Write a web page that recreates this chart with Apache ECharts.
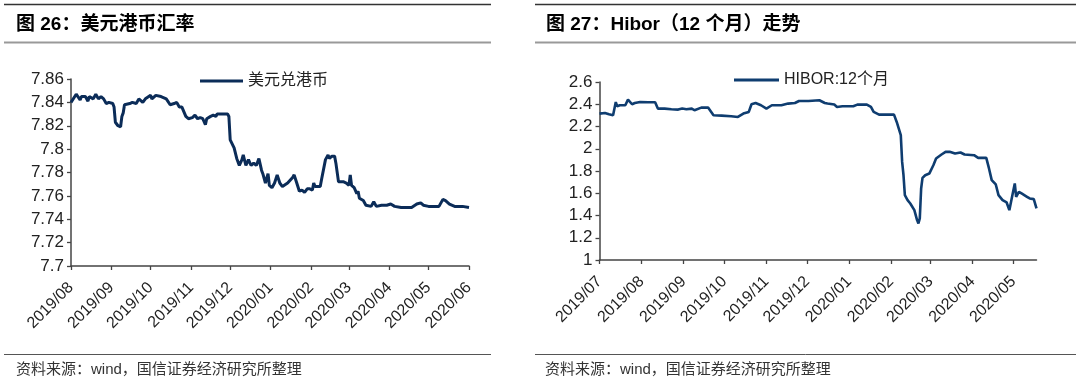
<!DOCTYPE html>
<html><head><meta charset="utf-8">
<script src="https://cdn.jsdelivr.net/npm/echarts@6/dist/echarts.min.js"></script>
<style>html,body{margin:0;padding:0;background:#fff}#c{width:1080px;height:382px}</style>
</head><body><div id="c"></div>
<script>
// ---- data ----
const hkdDates = ['2019-08-01','2019-08-05','2019-08-08','2019-08-09','2019-08-12','2019-08-14','2019-08-15','2019-08-18','2019-08-20','2019-08-22','2019-08-24','2019-08-26','2019-08-28','2019-08-30','2019-09-02','2019-09-03','2019-09-04','2019-09-06','2019-09-08','2019-09-09','2019-09-10','2019-09-11','2019-09-15','2019-09-17','2019-09-20','2019-09-22','2019-09-25','2019-09-27','2019-10-01','2019-10-02','2019-10-05','2019-10-09','2019-10-13','2019-10-16','2019-10-19','2019-10-21','2019-10-23','2019-10-25','2019-10-28','2019-10-30','2019-11-02','2019-11-04','2019-11-06','2019-11-08','2019-11-10','2019-11-12','2019-11-13','2019-11-16','2019-11-18','2019-11-20','2019-11-21','2019-11-26','2019-11-29','2019-11-30','2019-12-01','2019-12-04','2019-12-06','2019-12-08','2019-12-10','2019-12-11','2019-12-13','2019-12-15','2019-12-17','2019-12-19','2019-12-21','2019-12-23','2019-12-25','2019-12-26','2019-12-28','2019-12-30','2019-12-31','2020-01-02','2020-01-04','2020-01-06','2020-01-08','2020-01-10','2020-01-14','2020-01-18','2020-01-19','2020-01-21','2020-01-23','2020-01-25','2020-01-27','2020-01-29','2020-01-31','2020-02-02','2020-02-03','2020-02-04','2020-02-08','2020-02-09','2020-02-12','2020-02-14','2020-02-15','2020-02-17','2020-02-19','2020-02-20','2020-02-22','2020-02-26','2020-02-28','2020-03-01','2020-03-02','2020-03-03','2020-03-05','2020-03-07','2020-03-08','2020-03-09','2020-03-12','2020-03-14','2020-03-18','2020-03-20','2020-03-22','2020-03-26','2020-03-30','2020-04-02','2020-04-05','2020-04-10','2020-04-18','2020-04-22','2020-04-25','2020-04-27','2020-05-01','2020-05-04','2020-05-09','2020-05-12','2020-05-14','2020-05-17','2020-05-21','2020-05-27','2020-06-01'];
const hkdValues = [7.840,7.847,7.842,7.845,7.845,7.841,7.845,7.843,7.847,7.843,7.845,7.843,7.839,7.840,7.839,7.836,7.823,7.820,7.819,7.828,7.831,7.838,7.839,7.840,7.839,7.843,7.840,7.843,7.846,7.843,7.846,7.845,7.843,7.838,7.839,7.840,7.836,7.836,7.828,7.826,7.827,7.829,7.826,7.827,7.826,7.821,7.826,7.828,7.829,7.828,7.830,7.830,7.830,7.828,7.808,7.801,7.792,7.786,7.791,7.795,7.786,7.791,7.786,7.788,7.786,7.792,7.782,7.779,7.771,7.779,7.769,7.767,7.771,7.778,7.771,7.768,7.771,7.776,7.778,7.771,7.764,7.765,7.763,7.766,7.766,7.765,7.771,7.768,7.768,7.774,7.791,7.795,7.792,7.794,7.794,7.788,7.772,7.772,7.771,7.769,7.778,7.769,7.767,7.762,7.764,7.758,7.756,7.752,7.751,7.755,7.751,7.752,7.752,7.753,7.751,7.750,7.750,7.753,7.754,7.752,7.751,7.751,7.751,7.757,7.756,7.753,7.751,7.751,7.750];

const hiborDates = ['2019-07-01','2019-07-05','2019-07-08','2019-07-11','2019-07-13','2019-07-14','2019-07-16','2019-07-20','2019-07-22','2019-07-25','2019-07-27','2019-07-31','2019-08-06','2019-08-11','2019-08-13','2019-08-18','2019-08-23','2019-08-28','2019-08-31','2019-09-03','2019-09-07','2019-09-09','2019-09-14','2019-09-19','2019-09-23','2019-09-29','2019-10-06','2019-10-11','2019-10-15','2019-10-19','2019-10-21','2019-10-24','2019-10-28','2019-11-01','2019-11-05','2019-11-12','2019-11-17','2019-11-22','2019-11-25','2019-12-02','2019-12-10','2019-12-14','2019-12-16','2019-12-21','2019-12-23','2019-12-27','2019-12-31','2020-01-04','2020-01-07','2020-01-14','2020-01-17','2020-01-19','2020-01-23','2020-01-29','2020-02-03','2020-02-05','2020-02-08','2020-02-09','2020-02-10','2020-02-11','2020-02-13','2020-02-15','2020-02-18','2020-02-20','2020-02-21','2020-02-22','2020-02-23','2020-02-24','2020-02-26','2020-02-29','2020-03-03','2020-03-05','2020-03-09','2020-03-12','2020-03-15','2020-03-19','2020-03-23','2020-03-26','2020-04-02','2020-04-05','2020-04-11','2020-04-13','2020-04-15','2020-04-18','2020-04-20','2020-04-23','2020-04-26','2020-04-28','2020-04-30','2020-05-02','2020-05-03','2020-05-05','2020-05-07','2020-05-11','2020-05-13','2020-05-16','2020-05-18'];
const hiborValues = [2.316,2.322,2.310,2.301,2.420,2.382,2.391,2.391,2.442,2.400,2.411,2.420,2.418,2.418,2.361,2.361,2.355,2.352,2.361,2.355,2.361,2.346,2.370,2.370,2.301,2.298,2.292,2.286,2.316,2.331,2.400,2.411,2.391,2.361,2.391,2.391,2.406,2.411,2.429,2.429,2.436,2.411,2.406,2.397,2.376,2.382,2.382,2.382,2.397,2.397,2.376,2.331,2.307,2.307,2.307,2.241,2.122,1.882,1.762,1.583,1.538,1.508,1.448,1.359,1.329,1.374,1.643,1.738,1.762,1.777,1.852,1.912,1.948,1.972,1.972,1.957,1.966,1.948,1.942,1.918,1.918,1.823,1.718,1.679,1.583,1.538,1.517,1.448,1.568,1.688,1.568,1.613,1.598,1.568,1.553,1.547,1.464];

const leftMonths = ['2019-08','2019-09','2019-10','2019-11','2019-12','2020-01','2020-02','2020-03','2020-04','2020-05','2020-06'];
const rightMonths = ['2019-07','2019-08','2019-09','2019-10','2019-11','2019-12','2020-01','2020-02','2020-03','2020-04','2020-05'];

const leftTitle = '图 26：美元港币汇率';
const rightTitle = '图 27：Hibor（12 个月）走势';
const leftLegend = '美元兑港币';
const rightLegend = 'HIBOR:12个月';
const sourceText = '资料来源：wind，国信证券经济研究所整理';

// ---- helpers ----
function ts(s){const p=s.split('-').map(Number);return new Date(p[0],p[1]-1,p[2]||1).getTime();}
function fmt(v){const d=new Date(v);return d.getFullYear()+'/'+String(d.getMonth()+1).padStart(2,'0');}
const FONT='"Liberation Sans", Arial, "Noto Sans CJK SC", sans-serif';
const leftTicks = leftMonths.map(ts), rightTicks = rightMonths.map(ts);

function xAxis(gi,min,max,ticks){
  return {type:'value',gridIndex:gi,min:min,max:max,scale:true,
    axisLine:{show:true,lineStyle:{color:'#444',width:1.5}},
    axisTick:{show:true,length:4,inside:false,customValues:ticks,lineStyle:{color:'#444',width:1.3}},
    axisLabel:{customValues:ticks,formatter:fmt,rotate:45,margin:19,fontSize:16,color:'#222',fontFamily:FONT,hideOverlap:false},
    splitLine:{show:false}};
}
function yAxis(gi,min,max,interval){
  return {type:'value',gridIndex:gi,min:min,max:max,interval:interval,
    axisLine:{show:true,lineStyle:{color:'#444',width:1.5}},
    axisTick:{show:true,length:4,lineStyle:{color:'#444',width:1.3}},
    axisLabel:{margin:7,fontSize:17,color:'#222',fontFamily:FONT},
    splitLine:{show:false}};
}

const chart = echarts.init(document.getElementById('c'));
chart.setOption({
  animation:false,
  backgroundColor:'#fff',
  grid:[{left:71,top:79,width:398,height:187},{left:599.5,top:82,width:437,height:178}],
  xAxis:[xAxis(0,ts('2019-08-01'),ts('2020-06-01'),leftTicks), xAxis(1,ts('2019-07-01'),ts('2020-05-18'),rightTicks)],
  yAxis:[yAxis(0,7.7,7.86,0.02), yAxis(1,1,2.6,0.2)],
  legend:[
    {data:[leftLegend],left:195,top:68,icon:'rect',itemWidth:43,itemHeight:3,itemGap:5,
      textStyle:{fontSize:16,color:'#222',fontFamily:FONT,padding:[7,0,0,0]}},
    {data:[rightLegend],left:729,top:67,icon:'rect',itemWidth:45,itemHeight:3,itemGap:5,
      textStyle:{fontSize:16,color:'#222',fontFamily:FONT,padding:[8,0,0,0]}}
  ],
  series:[
    {name:leftLegend,type:'line',xAxisIndex:0,yAxisIndex:0,symbol:'none',
      data:hkdDates.map((d,i)=>[ts(d),hkdValues[i]]),
      lineStyle:{color:'#0b2c58',width:3},itemStyle:{color:'#0b2c58'}},
    {name:rightLegend,type:'line',xAxisIndex:1,yAxisIndex:1,symbol:'none',
      data:hiborDates.map((d,i)=>[ts(d),hiborValues[i]]),
      lineStyle:{color:'#0f3d70',width:2.6},itemStyle:{color:'#0f3d70'}}
  ],
  graphic:[
    {type:'line',shape:{x1:4,y1:4.5,x2:491,y2:4.5},style:{stroke:'#333',lineWidth:1.5}},
    {type:'line',shape:{x1:4,y1:42.5,x2:491,y2:42.5},style:{stroke:'#999',lineWidth:2}},
    {type:'line',shape:{x1:535,y1:4.5,x2:1076,y2:4.5},style:{stroke:'#333',lineWidth:1.5}},
    {type:'line',shape:{x1:535,y1:42.5,x2:1076,y2:42.5},style:{stroke:'#999',lineWidth:2}},
    {type:'line',shape:{x1:4,y1:354.5,x2:491,y2:354.5},style:{stroke:'#555',lineWidth:1}},
    {type:'line',shape:{x1:535,y1:354.5,x2:1076,y2:354.5},style:{stroke:'#555',lineWidth:1}},
    {type:'text',left:16,top:15,style:{text:leftTitle,font:'bold 19px "Liberation Sans", "Noto Sans CJK SC", sans-serif',fill:'#000'}},
    {type:'text',left:546,top:15,style:{text:rightTitle,font:'bold 19px "Liberation Sans", "Noto Sans CJK SC", sans-serif',fill:'#000'}},
    {type:'text',left:16,top:362,style:{text:sourceText,font:'15px "Liberation Sans", "Noto Sans CJK SC", sans-serif',fill:'#333'}},
    {type:'text',left:545,top:362,style:{text:sourceText,font:'15px "Liberation Sans", "Noto Sans CJK SC", sans-serif',fill:'#333'}}
  ]
});
</script></body></html>
